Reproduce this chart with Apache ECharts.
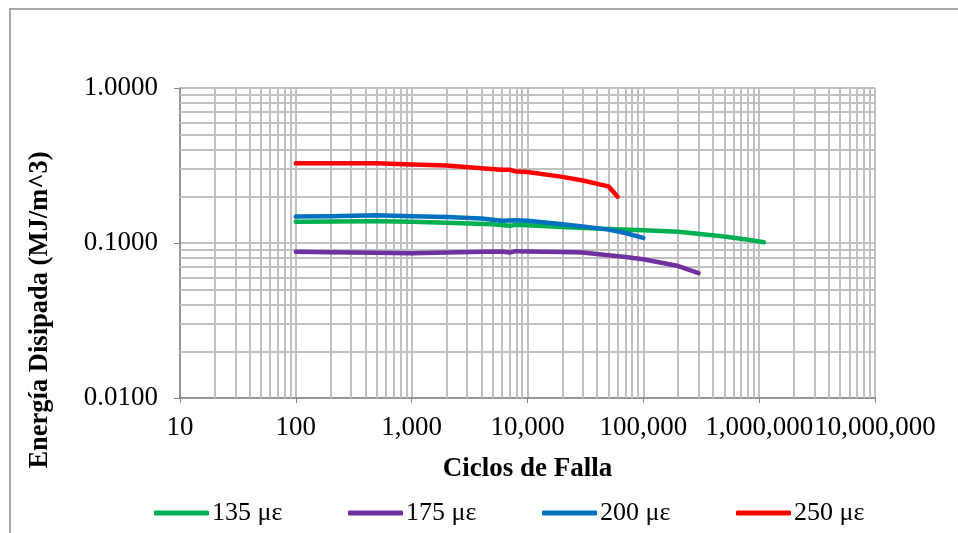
<!DOCTYPE html>
<html>
<head>
<meta charset="utf-8">
<script src="https://cdn.jsdelivr.net/npm/echarts@6/dist/echarts.min.js"></script>
<style>html,body{margin:0;padding:0;background:#fff}#c{width:958px;height:533px}</style>
</head>
<body>
<div id="c"></div>
<script>
// ---- data ----
const seriesNames = ['135 \u03bc\u03b5', '175 \u03bc\u03b5', '200 \u03bc\u03b5', '250 \u03bc\u03b5'];
const seriesColors = ['#00b050', '#7030a0', '#0070c0', '#ff0000'];

const cycles135 = [100, 500, 1000, 2000, 5000, 7000, 8000, 10000, 20000, 50000, 100000, 200000, 500000, 800000, 1100000];
const energy135 = [0.137, 0.138, 0.137, 0.135, 0.132, 0.129, 0.131, 0.130, 0.127, 0.123, 0.121, 0.118, 0.110, 0.105, 0.101];

const cycles175 = [100, 200, 500, 1000, 2000, 4000, 6000, 7000, 8000, 10000, 20000, 30000, 50000, 70000, 100000, 200000, 300000];
const energy175 = [0.0877, 0.0872, 0.0866, 0.0860, 0.0868, 0.0878, 0.0882, 0.0868, 0.0886, 0.0882, 0.0874, 0.0868, 0.0835, 0.0812, 0.0785, 0.0710, 0.0640];

const cycles200 = [100, 200, 500, 1000, 2000, 4000, 6000, 8000, 10000, 20000, 30000, 50000, 70000, 100000];
const energy200 = [0.148, 0.149, 0.151, 0.149, 0.147, 0.144, 0.139, 0.140, 0.139, 0.132, 0.128, 0.122, 0.116, 0.108];

const cycles250 = [100, 200, 500, 1000, 2000, 4000, 6000, 7000, 8000, 10000, 20000, 30000, 50000, 60000];
const energy250 = [0.327, 0.327, 0.327, 0.321, 0.316, 0.304, 0.297, 0.297, 0.289, 0.287, 0.267, 0.253, 0.232, 0.199];

const xTickValues = [10, 100, 1000, 10000, 100000, 1000000, 10000000];
const yTickValues = [0.01, 0.1, 1];

// minor grid positions (2..9 within each decade)
const xMinor = [];
[10, 100, 1000, 10000, 100000, 1000000].forEach(d => { for (let k = 2; k <= 9; k++) xMinor.push(d * k); });
const yMinor = [];
[0.01, 0.1].forEach(d => { for (let k = 2; k <= 9; k++) yMinor.push(+(d * k).toFixed(4)); });

const font = "'Liberation Serif','Times New Roman',serif";
const gridColor = '#c0c0c0';

const allData = [[cycles135, energy135], [cycles175, energy175], [cycles200, energy200], [cycles250, energy250]];

const dataSeries = allData.map((pair, i) => ({
  name: seriesNames[i],
  type: 'line',
  data: pair[0].map((c, j) => [c, pair[1][j]]),
  showSymbol: false,
  symbol: 'none',
  z: 5 + i,
  lineStyle: { color: seriesColors[i], width: 4.5, cap: 'round', join: 'round' },
  itemStyle: { color: seriesColors[i] }
}));

const gridSeries = {
  name: '__grid',
  type: 'line',
  data: [],
  z: 1,
  silent: true,
  markLine: {
    silent: true,
    symbol: ['none', 'none'],
    label: { show: false },
    animation: false,
    lineStyle: { color: gridColor, width: 2, type: 'solid' },
    data: xMinor.map(v => ({ xAxis: v })).concat(yMinor.map(v => ({ yAxis: v })))
  }
};

const legendLefts = [154, 348, 542, 736];
const legends = seriesNames.map((n, i) => ({
  data: [n],
  left: legendLefts[i],
  top: 500,
  padding: 0,
  itemWidth: 55,
  itemHeight: 5,
  icon: 'roundRect',
  textStyle: { fontFamily: font, fontSize: 26, color: '#000', padding: [0, 0, 0, -2] }
}));

const chart = echarts.init(document.getElementById('c'), null, { renderer: 'canvas' });
chart.setOption({
  animation: false,
  backgroundColor: '#fff',
  grid: { left: 180, right: 83, top: 88, bottom: 135, containLabel: false },
  graphic: [
    { type: 'rect', shape: { x: 10, y: 9, width: 980, height: 560 }, style: { fill: 'none', stroke: '#8a8a8a', lineWidth: 1.5 }, z: 0 },
    { type: 'text', x: 40, y: 310, rotation: Math.PI / 2,
      style: { text: 'Energía Disipada (MJ/m^3)', font: 'bold 26.5px ' + font, fill: '#000', align: 'center', verticalAlign: 'middle' } }
  ],
  legend: legends,
  xAxis: {
    type: 'log',
    logBase: 10,
    min: 10,
    max: 10000000,
    name: 'Ciclos de Falla',
    nameLocation: 'middle',
    nameGap: 58,
    nameTextStyle: { fontFamily: font, fontSize: 27, fontWeight: 'bold', color: '#000' },
    axisLine: { show: true, lineStyle: { color: '#868686', width: 1.5 } },
    axisTick: { show: true, inside: false, length: 5, lineStyle: { color: '#868686' } },
    axisLabel: {
      fontFamily: font, fontSize: 27, color: '#000', margin: 16,
      formatter: v => Math.round(v).toLocaleString('en-US')
    },
    splitLine: { show: true, lineStyle: { color: gridColor, width: 2 } }
  },
  yAxis: {
    type: 'log',
    logBase: 10,
    min: 0.01,
    max: 1,
    axisLine: { show: true, lineStyle: { color: '#868686', width: 1.5 } },
    axisTick: { show: true, inside: false, length: 6, lineStyle: { color: '#868686' } },
    axisLabel: {
      fontFamily: font, fontSize: 27, color: '#000', margin: 22,
      formatter: v => Number(v).toFixed(4)
    },
    splitLine: { show: true, lineStyle: { color: gridColor, width: 2 } }
  },
  series: [gridSeries].concat(dataSeries)
});
</script>
</body>
</html>
